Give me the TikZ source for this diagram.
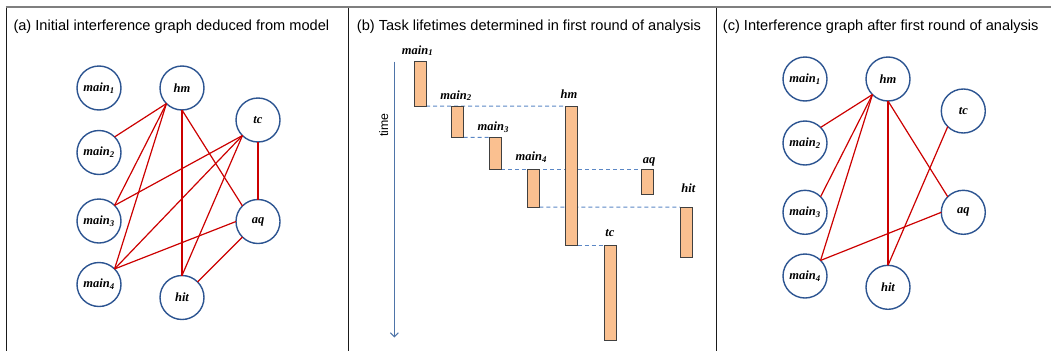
\documentclass[tikz,border=0pt]{standalone}
\usepackage{fontspec}
\setmainfont{Liberation Serif}
\newfontfamily\titlefont{Liberation Sans}
\usetikzlibrary{arrows.meta,backgrounds}

\definecolor{taskblue}{HTML}{2C5491}
\definecolor{edgered}{HTML}{CC0000}
\definecolor{barfill}{HTML}{FAC090}
\definecolor{barline}{HTML}{404040}
\definecolor{dashblue}{HTML}{5B87C5}
\definecolor{timeblue}{HTML}{4E74A8}
\definecolor{framegray}{HTML}{7F7F7F}
\definecolor{frameblack}{HTML}{1A1A1A}

\newcommand{\tsk}[2]{#1\textsubscript{#2}}

\begin{document}
\begin{tikzpicture}[x=1pt,y=-1pt,
  task/.style={circle, draw=taskblue, line width=1.4pt, minimum size=44pt,
    inner sep=0pt, outer sep=0pt,
    font=\fontsize{12.5}{12.5}\selectfont\bfseries\itshape},
  edge/.style={draw=edgered, line width=1.2pt},
  bar/.style={rectangle, draw=barline, fill=barfill, line width=1pt,
    minimum width=12pt, inner sep=0pt, outer sep=0pt, anchor=north west},
  barlabel/.style={anchor=base, inner sep=0pt,
    font=\fontsize{12.5}{12.5}\selectfont\bfseries\itshape},
  lifeline/.style={draw=dashblue, line width=1pt, dash pattern=on 4pt off 3pt},
  paneltitle/.style={anchor=base west, inner sep=0pt,
    font=\titlefont\fontsize{14.6}{16}\selectfont},
  frame/.style={draw=frameblack, line width=1.4pt}
]
\useasboundingbox (0,0) rectangle (1051,351);

% frame and panel dividers
\draw[framegray, line width=2.2pt] (5.6,6.7) -- (1051,6.7);
\draw[frame] (6.7,7.8) -- (6.7,351);
\draw[frame] (348.3,7.8) -- (348.3,351);
\draw[frame] (716.3,7.8) -- (716.3,351);

% panel titles
\node[paneltitle] (title-a) at (13.3,30.7) {(a) Initial interference graph deduced from model};
\node[paneltitle] (title-b) at (356.7,30.7) {(b) Task lifetimes determined in first round of analysis};
\node[paneltitle] (title-c) at (722.7,30.7) {(c) Interference graph after first round of analysis};

% ---- (a) initial interference graph
\node[task] (a-main1) at (99,88) {\tsk{main}{1}};
\node[task] (a-hm)    at (182,88) {hm};
\node[task] (a-tc)    at (258,120) {tc};
\node[task] (a-main2) at (99,152.5) {\tsk{main}{2}};
\node[task] (a-main3) at (99,221) {\tsk{main}{3}};
\node[task] (a-aq)    at (258,221.5) {aq};
\node[task] (a-main4) at (99,284.5) {\tsk{main}{4}};
\node[task] (a-hit)   at (182,297.5) {hit};

\draw[edge] (a-main2.north east) -- (a-hm.south west);
\draw[edge] (a-main3.north east) -- (a-hm.south west);
\draw[edge] (a-main3.north east) -- (a-tc.south west);
\draw[edge] (a-main4.north east) -- (a-hm.south west);
\draw[edge] (a-main4.north east) -- (a-tc.south west);
\draw[edge] (a-main4.north east) -- (a-aq.west);
\draw[edge] (a-hm.south) -- (a-hit.north);
\draw[edge] (a-hm.south) -- (a-aq.north west);
\draw[edge] (a-tc.south west) -- (a-hit.north);
\draw[edge] (a-tc.south) -- (a-aq.north);
\draw[edge] (a-aq.south west) -- (a-hit.north east);

% ---- (b) task lifetimes
\coordinate (time-start) at (394.3,61.7);
\coordinate (time-end) at (394.3,337.5);
\draw[timeblue, line width=1.1pt, -{Straight Barb[length=4pt,width=8pt]}] (time-start) -- (time-end);
\node[rotate=90, inner sep=0pt, font=\titlefont\fontsize{12.3}{14}\selectfont] (time-label) at (383.8,125) {time};

\node[bar, minimum height=44.3pt] (b-main1) at (414,61.7) {};
\node[bar, minimum height=31.3pt] (b-main2) at (451.7,106) {};
\node[bar, minimum height=32pt]   (b-main3) at (489.3,137.3) {};
\node[bar, minimum height=37.7pt] (b-main4) at (527.3,169.3) {};
\node[bar, minimum height=139pt]  (b-hm)    at (565.7,106) {};
\node[bar, minimum height=95pt]   (b-tc)    at (604,245) {};
\node[bar, minimum height=24.7pt] (b-aq)    at (641.7,169.3) {};
\node[bar, minimum height=50.7pt] (b-hit)   at (680,207) {};

\begin{pgfonlayer}{background}
\draw[lifeline] (b-main1.south east) -- (b-hm.north west);
\draw[lifeline] (b-main2.south east) -- (b-main3.north west);
\draw[lifeline] (b-main3.south east) -- (b-aq.north west);
\draw[lifeline] (b-main4.south east) -- (b-hit.north west);
\draw[lifeline] (b-hm.south east) -- (b-tc.north west);
\end{pgfonlayer}

\node[barlabel] (l-main1) at (417.5,54) {\tsk{main}{1}};
\node[barlabel] (l-main2) at (456,99) {\tsk{main}{2}};
\node[barlabel] (l-hm)    at (569,98.3) {hm};
\node[barlabel] (l-main3) at (493.3,130.7) {\tsk{main}{3}};
\node[barlabel] (l-main4) at (531.3,160.7) {\tsk{main}{4}};
\node[barlabel] (l-aq)    at (649.2,163.3) {aq};
\node[barlabel] (l-hit)   at (688.3,192.7) {hit};
\node[barlabel] (l-tc)    at (610,236.7) {tc};

% ---- (c) interference graph after first round
\node[task] (c-main1) at (805,79) {\tsk{main}{1}};
\node[task] (c-hm)    at (888,79) {hm};
\node[task] (c-tc)    at (963.3,111) {tc};
\node[task] (c-main2) at (805,143) {\tsk{main}{2}};
\node[task] (c-main3) at (805,212.3) {\tsk{main}{3}};
\node[task] (c-aq)    at (963.3,212.3) {aq};
\node[task] (c-main4) at (805,276) {\tsk{main}{4}};
\node[task] (c-hit)   at (888,287.3) {hit};

\draw[edge] (c-main2.north east) -- (c-hm.south west);
\draw[edge] (c-main3.north east) -- (c-hm.south west);
\draw[edge] (c-main4.north east) -- (c-hm.south west);
\draw[edge] (c-hm.south) -- (c-hit.north);
\draw[edge] (c-hm.south) -- (c-aq.north west);
\draw[edge] (c-main4.north east) -- (c-aq.west);
\draw[edge] (c-tc.south west) -- (c-hit.north);
\end{tikzpicture}
\end{document}
